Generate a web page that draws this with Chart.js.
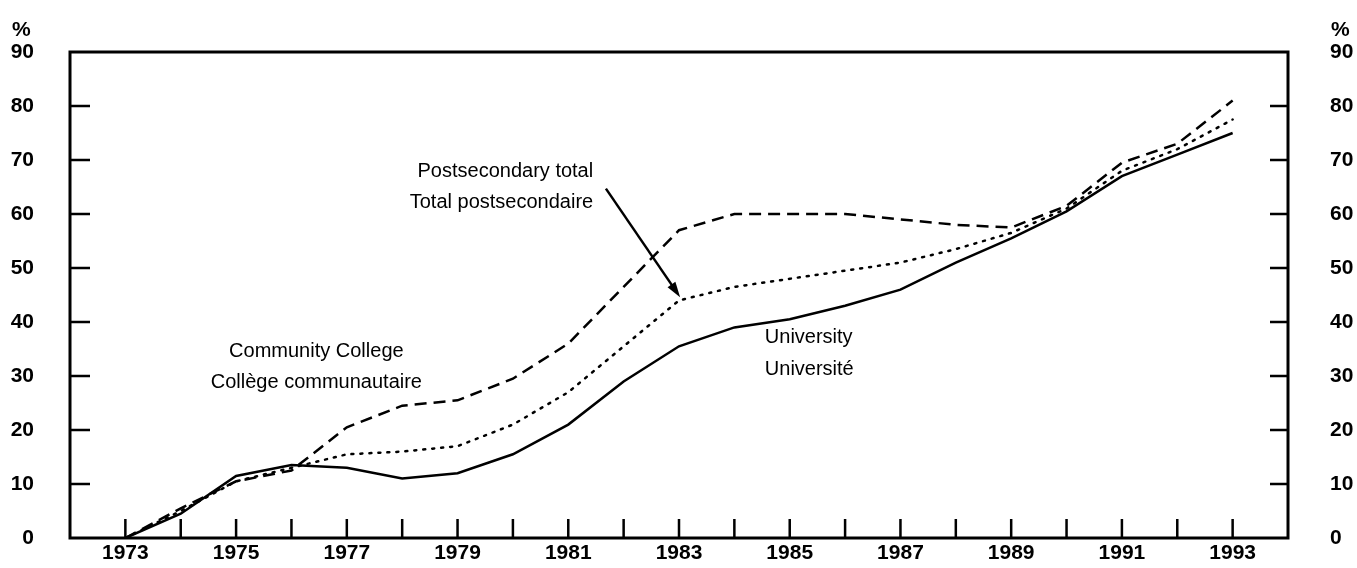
<!DOCTYPE html>
<html lang="en">
<head>
    <meta charset="UTF-8">
    <title>University and community college participation</title>
    <script src="https://cdn.jsdelivr.net/npm/chart.js"></script>
    <style>
        html, body {
            margin: 0;
            padding: 0;
            background: #fff;
        }
        .chart-container {
            position: relative;
            width: 1357px;
            height: 568px;
        }
    </style>
</head>
<body>

    <div class="chart-container">
        <canvas id="participationChart"></canvas>
    </div>

    <script>
        // Values (%)
        const years = [1973, 1974, 1975, 1976, 1977, 1978, 1979, 1980, 1981, 1982, 1983,
                       1984, 1985, 1986, 1987, 1988, 1989, 1990, 1991, 1992, 1993];
        const university = [0, 4.5, 11.5, 13.5, 13, 11, 12, 15.5, 21, 29, 35.5,
                            39, 40.5, 43, 46, 51, 55.5, 60.5, 67, 71, 75];
        const postsecondaryTotal = [0, 5, 10.5, 13, 15.5, 16, 17, 21, 27, 35.5, 44,
                                    46.5, 48, 49.5, 51, 53.5, 56.5, 61, 68, 72, 77.5];
        const communityCollege = [0, 5.5, 10.5, 12.5, 20.5, 24.5, 25.5, 29.5, 36, 46.5, 57,
                                  60, 60, 60, 59, 58, 57.5, 61.5, 69.5, 73, 81];
        const yTicks = [0, 10, 20, 30, 40, 50, 60, 70, 80, 90];

        const tickFont = { family: 'Liberation Sans', size: 21, weight: 'bold' };
        const noteFont = '20px "Liberation Sans"';

        // text labels inside the plot (data coordinates)
        const notes = [
            { lines: ['Postsecondary total', 'Total postsecondaire'], x: 1981.45, y: [67.9, 62.2], align: 'right' },
            { lines: ['Community College', 'Collège communautaire'], x: 1976.45, y: [34.5, 28.8], align: 'center' },
            { lines: ['University', 'Université'], x: 1984.55, y: [37.1, 31.2], align: 'left' }
        ];
        const arrow = { from: [1981.68, 64.7], to: [1983.02, 44.6] };

        const toPoints = arr => arr.map((v, i) => ({ x: years[i], y: v }));

        // frame with inward tick marks, % labels, notes and the arrow
        const framePlugin = {
            id: 'frame',
            afterDatasetsDraw(chart) {
                const { ctx, chartArea: a, scales } = chart;
                const xs = scales.x, ys = scales.y;
                ctx.save();
                ctx.strokeStyle = '#000';
                ctx.lineWidth = 3;
                ctx.strokeRect(a.left, a.top, a.right - a.left, a.bottom - a.top);

                ctx.lineWidth = 2.5;
                ctx.beginPath();
                years.forEach(yr => {
                    const px = xs.getPixelForValue(yr);
                    ctx.moveTo(px, a.bottom);
                    ctx.lineTo(px, a.bottom - 19);
                });
                yTicks.slice(1, -1).forEach(v => {
                    const py = ys.getPixelForValue(v);
                    ctx.moveTo(a.left, py);
                    ctx.lineTo(a.left + 20, py);
                    ctx.moveTo(a.right, py);
                    ctx.lineTo(a.right - 18, py);
                });
                ctx.stroke();

                ctx.fillStyle = '#000';
                ctx.font = 'bold 21px "Liberation Sans"';
                ctx.textBaseline = 'middle';
                ctx.textAlign = 'left';
                ctx.fillText('%', 12, 30);
                ctx.fillText('%', 1331, 30);

                ctx.font = noteFont;
                notes.forEach(n => {
                    ctx.textAlign = n.align;
                    n.lines.forEach((t, i) => {
                        ctx.fillText(t, xs.getPixelForValue(n.x), ys.getPixelForValue(n.y[i]));
                    });
                });

                // arrow
                const x1 = xs.getPixelForValue(arrow.from[0]), y1 = ys.getPixelForValue(arrow.from[1]);
                const x2 = xs.getPixelForValue(arrow.to[0]), y2 = ys.getPixelForValue(arrow.to[1]);
                const ang = Math.atan2(y2 - y1, x2 - x1);
                ctx.lineWidth = 2.5;
                ctx.beginPath();
                ctx.moveTo(x1, y1);
                ctx.lineTo(x2 - 10 * Math.cos(ang), y2 - 10 * Math.sin(ang));
                ctx.stroke();
                ctx.beginPath();
                ctx.moveTo(x2, y2);
                ctx.lineTo(x2 - 16 * Math.cos(ang - 0.3), y2 - 16 * Math.sin(ang - 0.3));
                ctx.lineTo(x2 - 16 * Math.cos(ang + 0.3), y2 - 16 * Math.sin(ang + 0.3));
                ctx.closePath();
                ctx.fill();
                ctx.restore();
            }
        };

        const yAxis = (position, width, padding) => ({
            position: position,
            min: 0,
            max: 90,
            grid: { display: false, drawTicks: false },
            border: { display: false },
            afterBuildTicks: s => { s.ticks = yTicks.map(v => ({ value: v })); },
            afterFit: s => {
                // fixed width, and no extra room reserved above/below the plot
                s.width = width;
                s.paddingTop = 0;
                s.paddingBottom = 0;
            },
            ticks: { font: tickFont, color: '#000', padding: padding }
        });

        new Chart(document.getElementById('participationChart'), {
            type: 'line',
            data: {
                datasets: [
                    {
                        label: 'University',
                        data: toPoints(university),
                        borderColor: '#000',
                        borderWidth: 2.5,
                        yAxisID: 'y'
                    },
                    {
                        label: 'Postsecondary total',
                        data: toPoints(postsecondaryTotal),
                        borderColor: '#000',
                        borderWidth: 2.5,
                        borderDash: [2, 7],
                        borderCapStyle: 'round',
                        yAxisID: 'y'
                    },
                    {
                        label: 'Community College',
                        data: toPoints(communityCollege),
                        borderColor: '#000',
                        borderWidth: 2.5,
                        borderDash: [12, 7],
                        yAxisID: 'y'
                    }
                ]
            },
            options: {
                responsive: true,
                maintainAspectRatio: false,
                animation: false,
                layout: { padding: { top: 52 } },
                elements: { point: { radius: 0 }, line: { tension: 0 } },
                scales: {
                    x: {
                        type: 'linear',
                        min: 1972,
                        max: 1994,
                        grid: { display: false, drawTicks: false },
                        border: { display: false },
                        afterBuildTicks: s => { s.ticks = years.map(v => ({ value: v })); },
                        afterFit: s => { s.height = 30; },
                        ticks: {
                            autoSkip: false,
                            maxRotation: 0,
                            font: tickFont,
                            color: '#000',
                            padding: 3,
                            callback: v => (v % 2 === 1 ? String(v) : '')
                        }
                    },
                    y: yAxis('left', 70, 36),
                    y2: yAxis('right', 69, 42)
                },
                plugins: {
                    legend: { display: false },
                    tooltip: { enabled: false }
                }
            },
            plugins: [framePlugin]
        });
    </script>

</body>
</html>
